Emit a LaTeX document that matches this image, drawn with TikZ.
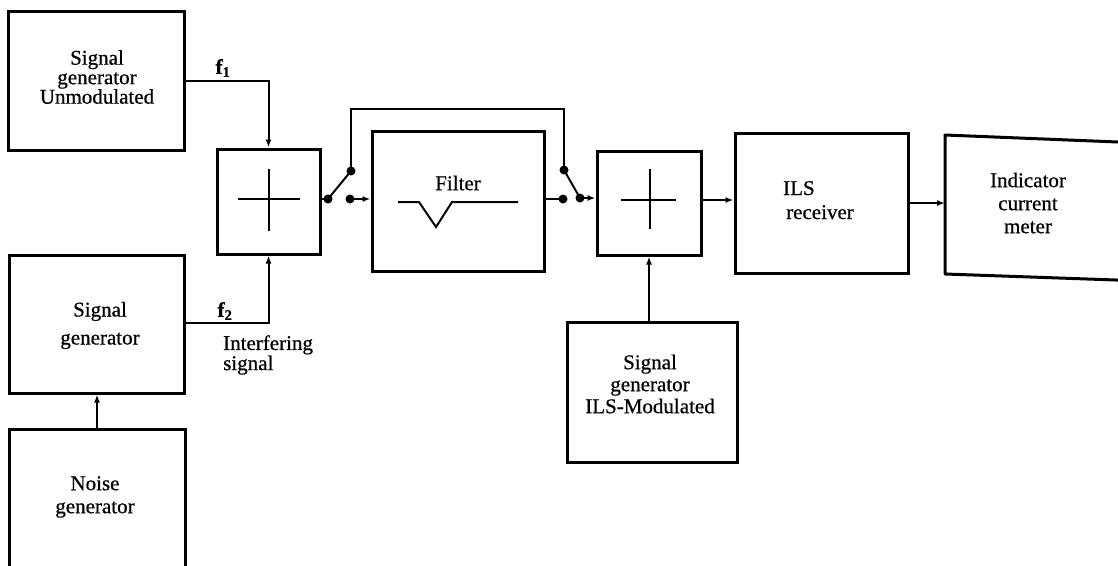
\documentclass[tikz,border=0pt]{standalone}
\usepackage{fontspec}
\setmainfont{Liberation Serif}[FakeBold=0.6]
\usetikzlibrary{arrows.meta}
\begin{document}
\begin{tikzpicture}[x=1pt,y=-1pt,
  blk/.style={draw, line width=3pt, inner sep=0pt},
  ln/.style={line width=2pt},
  arr/.style={ln, -{Latex[length=8pt,width=6pt]}},
  txt/.style={font=\fontsize{21}{#1}\selectfont, align=center, inner sep=0pt},
  txt/.default=20,
  lbl/.style={font=\fontsize{21}{20}\selectfont\bfseries, inner sep=0pt},
  dot/.style={circle, fill, inner sep=0pt, minimum size=9pt}]
\useasboundingbox (0,0) rectangle (1118,565);

% boxes
\node[blk, minimum width=176pt, minimum height=139pt] (sgu) at (96,80.5) {};
\node[blk, minimum width=175pt, minimum height=138pt] (sg) at (96.5,324) {};
\node[blk, minimum width=176pt, minimum height=171pt] (noise) at (97,514.5) {};
\node[blk, minimum width=103pt, minimum height=105pt] (add1) at (268.5,201.5) {};
\node[blk, minimum width=172pt, minimum height=140pt] (filter) at (458,201) {};
\node[blk, minimum width=104pt, minimum height=104pt] (add2) at (649,203) {};
\node[blk, minimum width=173pt, minimum height=140pt] (ils) at (821.5,203) {};
\node[blk, minimum width=170pt, minimum height=140pt] (ilsmod) at (652,392) {};
\draw[line width=3pt, line join=round] (1130,142.5) -- (945,135) -- (945,274) -- (1130,280.5);
\coordinate (ind) at (945,203);

% texts
\node[txt=19.5] (sgu-t) at (97,77) {Signal\\generator\\Unmodulated};
\node[txt=28] (sg-t) at (100,325.5) {Signal\\generator};
\node[txt=23] (noise-t) at (95,497) {Noise\\generator};
\node[txt] (filter-t) at (458,183) {Filter};
\node[txt, anchor=base west] (ils-t1) at (783,195) {ILS};
\node[txt, anchor=base west] (ils-t2) at (786,219) {receiver};
\node[txt=22] (ilsmod-t) at (650,384) {Signal\\generator\\ILS-Modulated};
\node[txt=23] (ind-t) at (1028,203) {Indicator\\current\\meter};
\node[lbl] (f1) at (223,68) {f\textsubscript{1}};
\node[lbl] (f2) at (225,311) {f\textsubscript{2}};
\node[txt=19, align=left, anchor=north west] (intf) at (223,335) {Interfering\\signal};

% adder crosses
\draw[ln] (238,199) -- (300,199) (268.5,169) -- (268.5,231);
\draw[ln] (621,200) -- (676,200) (650,169) -- (650,229);

% filter curve
\draw[ln] (398,202) -- (419,202) -- (436,227) -- (452,202) -- (518,202);

% switches
\node[dot] (d1) at (328,199) {};
\node[dot] (d2) at (351,171) {};
\node[dot] (d3) at (350,199) {};
\node[dot] (d4) at (564,170) {};
\node[dot] (d5) at (563,199) {};
\node[dot] (d6) at (580,198) {};
\coordinate (top) at (0,109);

% connectors
\draw[arr] (sgu.east) -| (add1.north);
\draw[arr] (sg.east |- 0,323) -| (add1.south);
\draw[arr] (noise.north) -- (noise.north |- sg.south);
\draw[ln] (add1.east |- d1) -- (d1.center);
\draw[ln] (d1.center) -- (d2.center);
\draw[arr] (d3.center) -- (filter.west |- d3);
\draw[ln] (d2.center) |- (top -| d4) -- (d4.center);
\draw[ln] (filter.east |- d5) -- (d5.center);
\draw[ln] (d4.center) -- (d6.center);
\draw[arr] (d6.center) -- (add2.west |- d6);
\draw[arr] (add2.east |- 0,200) -- (ils.west |- 0,200);
\draw[arr] (ils.east) -- (ind);
\draw[arr] (ilsmod.north -| add2.south) -- (add2.south);
\end{tikzpicture}
\end{document}
